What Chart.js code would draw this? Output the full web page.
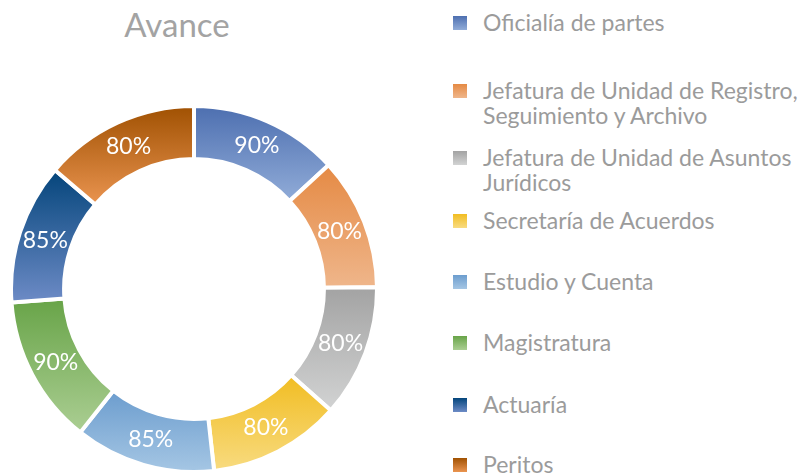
<!DOCTYPE html>
<html lang="es">
<head>
  <meta charset="UTF-8">
  <title>Avance</title>
  <style>
    body {
      margin: 0;
      background: #fff;
      font-family: Lato, 'Open Sans', sans-serif;
    }
    #wrap {
      position: relative;
      width: 802px;
      height: 473px;
      overflow: hidden;
    }
    #title {
      position: absolute;
      left: 0;
      width: 354px;
      top: 4px;
      text-align: center;
      font-size: 33px;
      color: #a3a3a3;
    }
    #chartBox {
      position: absolute;
      left: 9px;
      top: 104px;
      width: 370px;
      height: 370px;
    }
    #legend .item {
      position: absolute;
      left: 453px;
      display: flex;
      align-items: flex-start;
    }
    #legend .box {
      width: 14px;
      height: 14px;
      margin-top: 6px;
      flex: none;
    }
    #legend .txt {
      margin-left: 16px;
      font-size: 23px;
      line-height: 25px;
      color: #9b9b9b;
      white-space: nowrap;
    }
    #legend .item:nth-child(1) { top: 10px; }
    #legend .item:nth-child(2) { top: 78px; }
    #legend .item:nth-child(3) { top: 145px; }
    #legend .item:nth-child(4) { top: 208px; }
    #legend .item:nth-child(5) { top: 269px; }
    #legend .item:nth-child(6) { top: 330px; }
    #legend .item:nth-child(7) { top: 392px; }
    #legend .item:nth-child(8) { top: 452px; }
  </style>
  <script src="https://cdn.jsdelivr.net/npm/chart.js"></script>
</head>
<body>
  <div id="wrap">
    <div id="title">Avance</div>
    <div id="chartBox"><canvas id="avanceChart"></canvas></div>
    <div id="legend"></div>
  </div>

  <script>
    const areas = [
      'Oficialía de partes',
      ['Jefatura de Unidad de Registro,', 'Seguimiento y Archivo'],
      ['Jefatura de Unidad de Asuntos', 'Jurídicos'],
      'Secretaría de Acuerdos',
      'Estudio y Cuenta',
      'Magistratura',
      'Actuaría',
      'Peritos'
    ];
    // slice sizes as drawn (Peritos slice is wider than its 80% label)
    const avance = [90, 80, 80, 80, 85, 90, 85, 94];
    const etiquetas = ['90%', '80%', '80%', '80%', '85%', '90%', '85%', '80%'];

    // slice gradients, top -> bottom
    const topColors = ['#4d6fb0', '#e58a44', '#a3a3a3', '#f1bd22', '#6c9dce', '#68a448', '#04457b', '#a05102'];
    const bottomColors = ['#91acd8', '#efb68b', '#d2d3d3', '#f8db80', '#a5c6e4', '#abce93', '#6d8bc6', '#ea9450'];
    const midColors = ['#7090c9', '#eaa067', '#bbbbbb', '#f4cb4d', '#8ab2da', '#8cbb6f', '#3d64a0', '#cf7428'];

    const legendEl = document.getElementById('legend');
    areas.forEach((name, i) => {
      const item = document.createElement('div');
      item.className = 'item';
      const box = document.createElement('div');
      box.className = 'box';
      box.style.background = `linear-gradient(${topColors[i]}, ${bottomColors[i]})`;
      const txt = document.createElement('div');
      txt.className = 'txt';
      txt.innerHTML = [].concat(name).join('<br>');
      item.appendChild(box);
      item.appendChild(txt);
      legendEl.appendChild(item);
    });

    const sliceGradients = {
      id: 'sliceGradients',
      beforeDatasetsDraw(chart) {
        const ctx = chart.ctx;
        chart.getDatasetMeta(0).data.forEach((arc, i) => {
          const p = arc.getProps(['x', 'y', 'startAngle', 'endAngle', 'innerRadius', 'outerRadius'], true);
          let top = Infinity, bottom = -Infinity;
          for (let k = 0; k <= 40; k++) {
            const a = p.startAngle + (p.endAngle - p.startAngle) * k / 40;
            [p.innerRadius, p.outerRadius].forEach(r => {
              const y = p.y + r * Math.sin(a);
              top = Math.min(top, y);
              bottom = Math.max(bottom, y);
            });
          }
          const g = ctx.createLinearGradient(0, top, 0, bottom);
          g.addColorStop(0, topColors[i]);
          g.addColorStop(1, bottomColors[i]);
          arc.options = Object.assign({}, arc.options, { backgroundColor: g });
        });
      }
    };

    const pctLabels = {
      id: 'pctLabels',
      afterDatasetsDraw(chart) {
        const ctx = chart.ctx;
        ctx.save();
        ctx.font = '23px Lato';
        ctx.fillStyle = '#ffffff';
        ctx.textAlign = 'center';
        ctx.textBaseline = 'middle';
        chart.getDatasetMeta(0).data.forEach((arc, i) => {
          const pos = arc.tooltipPosition();
          ctx.fillText(etiquetas[i], pos.x, pos.y);
        });
        ctx.restore();
      }
    };

    new Chart(document.getElementById('avanceChart'), {
      type: 'doughnut',
      data: {
        labels: areas.map(a => [].concat(a).join(' ')),
        datasets: [{
          data: avance,
          backgroundColor: midColors,
          borderColor: '#ffffff',
          borderWidth: 4
        }]
      },
      options: {
        responsive: true,
        maintainAspectRatio: false,
        animation: false,
        cutout: '71%',
        layout: { padding: 0 },
        plugins: {
          legend: { display: false },
          tooltip: { enabled: false }
        }
      },
      plugins: [sliceGradients, pctLabels]
    });
  </script>
</body>
</html>
